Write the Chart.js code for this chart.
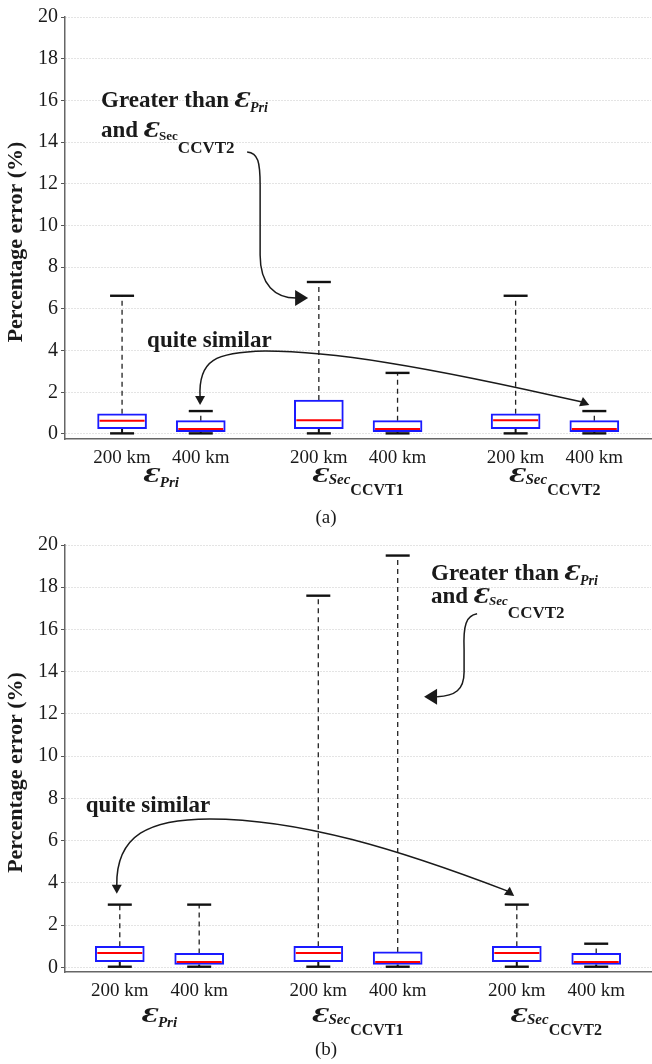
<!DOCTYPE html>
<html>
<head>
<meta charset="utf-8">
<script src="https://cdn.jsdelivr.net/npm/chart.js@4.4.1/dist/chart.umd.min.js"></script>
<style>
  body { margin: 0; background: #fff; width: 652px; height: 1064px; overflow: hidden; }
  .panel { position: absolute; left: 0; width: 652px; }
  #wrapA { top: 0; height: 530px; }
  #wrapB { top: 530px; height: 534px; }
</style>
</head>
<body>
<div class="panel" id="wrapA"><canvas id="chartA"></canvas></div>
<div class="panel" id="wrapB"><canvas id="chartB"></canvas></div>
<script>
// box positions on the x axis (two line lengths per error type)
const positions = [1, 2, 3.5, 4.5, 6, 7];
const tickLabels = ['200 km', '400 km', '200 km', '400 km', '200 km', '400 km'];
const groupCentres = [1.5, 4, 6.5];
const groupSubs = [['Pri', ''], ['Sec', 'CCVT1'], ['Sec', 'CCVT2']];
const yMax = 20;
const yStep = 2;

// (a) percentage error statistics
const aMin = [0.03, 0.03, 0.03, 0.03, 0.03, 0.03];
const aQ1  = [0.25, 0.11, 0.25, 0.11, 0.25, 0.11];
const aMed = [0.64, 0.24, 0.66, 0.24, 0.66, 0.24];
const aQ3  = [0.97, 0.64, 1.63, 0.64, 0.97, 0.64];
const aMax = [6.63, 1.10, 7.29, 2.93, 6.63, 1.10];

// (b) percentage error statistics
const bMin = [0.03, 0.03, 0.03, 0.03, 0.03, 0.03];
const bQ1  = [0.27, 0.14, 0.27, 0.14, 0.27, 0.14];
const bMed = [0.68, 0.25, 0.68, 0.25, 0.68, 0.25];
const bQ3  = [1.00, 0.66, 1.00, 0.73, 1.00, 0.66];
const bMax = [2.97, 2.97, 17.6, 19.5, 2.97, 1.12];

const serif = '"Liberation Serif", "Times New Roman", serif';
const ink = '#1a1a1a';

// annotation text + arrows, in data units
const B23 = 'bold 23px ' + serif;
const E24 = 'italic bold 23px ' + serif;
const notesA = [
  { x: 0.733, y: 15.68, gap: 30, lines: [
    [{ t: 'Greater than ', f: B23 }, { t: 'Ɛ', f: E24, sx: 1.3 }, { t: 'Pri', f: 'italic bold 14px ' + serif, dy: 5 }],
    [{ t: 'and ', f: B23 }, { t: 'Ɛ', f: E24, sx: 1.3 }, { t: 'Sec', f: 'bold 13px ' + serif, dy: 3 }, { t: 'CCVT2', f: 'bold 17px ' + serif, dy: 16 }]
  ]},
  { x: 1.318, y: 4.17, gap: 0, lines: [[{ t: 'quite similar', f: B23 }]] }
];
const notesB = [
  { x: 4.92, y: 18.36, gap: 23, lines: [
    [{ t: 'Greater than ', f: B23 }, { t: 'Ɛ', f: E24, sx: 1.3 }, { t: 'Pri', f: 'italic bold 14px ' + serif, dy: 5 }],
    [{ t: 'and ', f: B23 }, { t: 'Ɛ', f: E24, sx: 1.3 }, { t: 'Sec', f: 'italic bold 13px ' + serif, dy: 2 }, { t: 'CCVT2', f: 'bold 17px ' + serif, dy: 15 }]
  ]},
  { x: 0.571, y: 7.36, gap: 0, lines: [[{ t: 'quite similar', f: B23 }]] }
];
const arrowsA = [
  { pts: [[2.589, 13.53], [2.729, 13.48], [2.754, 13.05], [2.754, 11.94], [2.754, 11.0], [2.754, 9.6], [2.754, 8.59], [2.754, 7.15], [2.945, 6.52], [3.212, 6.52]],
    tipEnd: [3.364, 6.52], head: [13, 8] },
  { pts: [[1.991, 1.77], [1.966, 3.55], [2.182, 3.93], [2.818, 3.98], [3.644, 3.98], [4.788, 3.31], [6.847, 1.53]],
    tipStart: [1.991, 1.39], tipEnd: [6.936, 1.39], head: [9, 5] }
];
const arrowsB = [
  { pts: [[5.500, 16.74], [5.361, 16.65], [5.324, 16.22], [5.336, 15.04], [5.336, 14.70], [5.336, 14.33], [5.336, 13.99], [5.336, 13.14], [5.223, 12.86], [4.996, 12.81]],
    tipEnd: [4.832, 12.81], head: [13, 8] },
  { pts: [[0.962, 3.86], [0.950, 6.28], [1.378, 7.03], [2.134, 7.03], [3.269, 7.03], [4.530, 5.56], [5.878, 3.62]],
    tipStart: [0.962, 3.48], tipEnd: [5.967, 3.38], head: [9, 5] }
];

// draw a row of text runs (sub/superscripts via dy, wide glyphs via sx)
function drawRuns(ctx, runs, x, y, centred) {
  let w = 0;
  runs.forEach(r => { ctx.font = r.f; w += ctx.measureText(r.t).width * (r.sx || 1); });
  let cx = centred ? x - w / 2 : x;
  runs.forEach(r => {
    ctx.font = r.f;
    const sx = r.sx || 1;
    ctx.save();
    ctx.translate(cx, y + (r.dy || 0));
    ctx.scale(sx, 1);
    ctx.fillText(r.t, 0, 0);
    ctx.restore();
    cx += ctx.measureText(r.t).width * sx;
  });
}

function arrowHead(ctx, from, tip, len, half) {
  const dx = tip[0] - from[0], dy = tip[1] - from[1];
  const d = Math.hypot(dx, dy) || 1;
  const ux = dx / d, uy = dy / d;
  const bx = tip[0] - ux * len, by = tip[1] - uy * len;
  ctx.beginPath();
  ctx.moveTo(tip[0], tip[1]);
  ctx.lineTo(bx - uy * half, by + ux * half);
  ctx.lineTo(bx + uy * half, by - ux * half);
  ctx.closePath();
  ctx.fill();
}

const decor = {
  id: 'decor',
  afterDraw(chart) {
    const o = chart.options.plugins.decor;
    const { ctx, chartArea: ca } = chart;
    const xs = chart.scales.x, ys = chart.scales.y;
    const px = p => [xs.getPixelForValue(p[0]), ys.getPixelForValue(p[1])];
    ctx.save();
    ctx.fillStyle = ink;
    ctx.textAlign = 'left';
    ctx.textBaseline = 'alphabetic';

    // y axis title
    ctx.save();
    ctx.translate(16, (ca.top + ca.bottom) / 2 + 14);
    ctx.rotate(-Math.PI / 2);
    ctx.textAlign = 'center';
    ctx.textBaseline = 'middle';
    ctx.font = 'bold 22px ' + serif;
    ctx.fillText('Percentage error (%)', 0, 0);
    ctx.restore();

    // group labels under the tick labels
    groupCentres.forEach((g, i) => {
      const runs = [
        { t: 'Ɛ', f: 'italic bold 21px ' + serif, sx: 1.5 },
        { t: groupSubs[i][0], f: 'italic bold 15px ' + serif, dy: groupSubs[i][1] ? 2 : 5 }
      ];
      if (groupSubs[i][1]) runs.push({ t: groupSubs[i][1], f: 'bold 16px ' + serif, dy: 13 });
      drawRuns(ctx, runs, xs.getPixelForValue(g), ca.bottom + o.groupOffset, true);
    });

    // panel caption
    ctx.font = '19px ' + serif;
    ctx.textAlign = 'center';
    ctx.textBaseline = 'middle';
    ctx.fillText(o.caption, chart.width / 2, ca.bottom + o.captionOffset);
    ctx.textAlign = 'left';
    ctx.textBaseline = 'alphabetic';

    // notes
    o.notes.forEach(n => {
      const p = px([n.x, n.y]);
      n.lines.forEach((line, k) => drawRuns(ctx, line, p[0], p[1] + k * n.gap, false));
    });

    // arrows
    ctx.strokeStyle = ink;
    ctx.lineWidth = 1.5;
    o.arrows.forEach(a => {
      const pts = a.pts.map(px);
      ctx.beginPath();
      ctx.moveTo(pts[0][0], pts[0][1]);
      for (let i = 1; i + 2 < pts.length; i += 3) {
        ctx.bezierCurveTo(pts[i][0], pts[i][1], pts[i + 1][0], pts[i + 1][1], pts[i + 2][0], pts[i + 2][1]);
      }
      ctx.stroke();
      if (a.tipEnd) arrowHead(ctx, pts[pts.length - 1], px(a.tipEnd), a.head[0], a.head[1]);
      if (a.tipStart) arrowHead(ctx, pts[0], px(a.tipStart), a.head[0], a.head[1]);
    });
    ctx.restore();
  }
};

function makeChart(id, st, opt) {
  const [mn, q1, md, q3, mx] = st;
  return new Chart(document.getElementById(id), {
    type: 'bar',
    data: {
      datasets: [{
        type: 'scatter',
        data: positions.map((p, i) => ({ x: p, y: md[i] })),
        pointStyle: 'line', pointRadius: 22.5, borderColor: '#ff0000', pointBorderWidth: 2,
        order: 0
      }, {
        type: 'scatter',
        data: positions.flatMap((p, i) => [{ x: p, y: mx[i] }, { x: p, y: mn[i] }]),
        pointStyle: 'line', pointRadius: 12, borderColor: '#111', pointBorderWidth: 2.4,
        order: 1
      }, {
        type: 'bar',
        data: positions.map((p, i) => ({ x: p, y: [q1[i], q3[i]] })),
        backgroundColor: '#ffffff', borderColor: '#1a1aff', borderWidth: 2,
        borderSkipped: false, barThickness: 49,
        order: 2
      }, {
        type: 'line',
        data: positions.flatMap((p, i) => [{ x: p, y: q3[i] }, { x: p, y: mx[i] }, { x: p, y: null }]),
        borderColor: '#222', borderWidth: 1.3, borderDash: [5, 4], pointRadius: 0, spanGaps: false,
        order: 3
      }, {
        type: 'line',
        data: positions.flatMap((p, i) => [{ x: p, y: mn[i] }, { x: p, y: q1[i] }, { x: p, y: null }]),
        borderColor: '#111', borderWidth: 2, pointRadius: 0, spanGaps: false,
        order: 3
      }]
    },
    options: {
      responsive: true,
      maintainAspectRatio: false,
      animation: false,
      events: [],
      layout: { autoPadding: false, padding: { top: opt.padTop, right: 1, left: 0, bottom: 0 } },
      scales: {
        x: {
          type: 'linear', min: opt.xMin, max: opt.xMax, offset: false,
          grid: { display: false, drawTicks: false },
          border: { display: true, color: '#666', width: 1.5 },
          ticks: {
            font: { family: serif, size: 19 }, color: ink, padding: 8,
            autoSkip: false, maxRotation: 0,
            callback: (v, i) => tickLabels[i]
          },
          afterBuildTicks: s => { s.ticks = positions.map(v => ({ value: v })); },
          afterFit: s => { s.height = opt.xHeight; s.paddingLeft = 0; s.paddingRight = 0; }
        },
        y: {
          min: opt.yMin, max: yMax,
          ticks: { stepSize: yStep, includeBounds: false, font: { family: serif, size: 20 }, color: ink, padding: 3 },
          grid: { color: '#c8c8c8', lineWidth: 1, tickColor: '#555', tickLength: 4 },
          border: { display: true, color: '#666', width: 1.5, dash: [1, 2] },
          afterFit: s => { s.width = 65; s.paddingTop = 0; s.paddingBottom = 0; }
        }
      },
      plugins: {
        legend: { display: false },
        tooltip: { enabled: false },
        decor: opt
      }
    },
    plugins: [decor]
  });
}

makeChart('chartA', [aMin, aQ1, aMed, aQ3, aMax], {
  xMin: 0.275, xMax: 7.72, yMin: -0.24, padTop: 17, xHeight: 91,
  groupOffset: 43, captionOffset: 79, caption: '(a)', notes: notesA, arrows: arrowsA
});
makeChart('chartB', [bMin, bQ1, bMed, bQ3, bMax], {
  xMin: 0.31, xMax: 7.69, yMin: -0.22, padTop: 15, xHeight: 92,
  groupOffset: 50, captionOffset: 78, caption: '(b)', notes: notesB, arrows: arrowsB
});
</script>
</body>
</html>
